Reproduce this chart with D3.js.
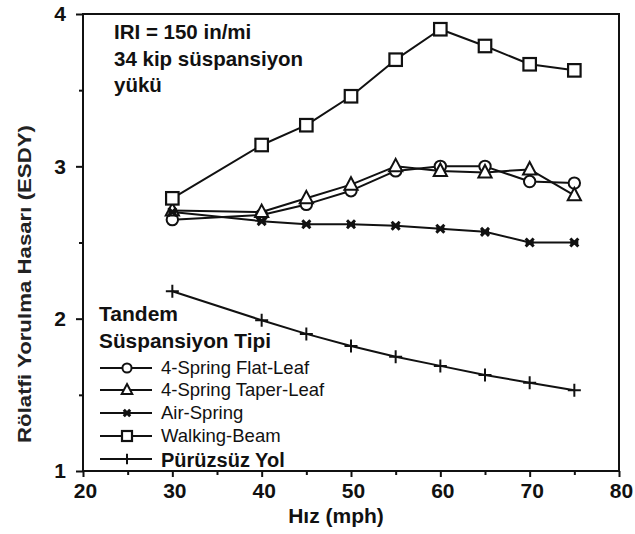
<!DOCTYPE html>
<html>
<head>
<meta charset="utf-8">
<script src="https://cdn.jsdelivr.net/npm/d3@7"></script>
<style>
  html, body { margin: 0; padding: 0; background: #fff; }
  svg { display: block; font-family: "Liberation Sans", Arial, Helvetica, sans-serif; }
</style>
</head>
<body>
<svg id="chart" width="635" height="534"></svg>
<script>
// ---- data ----
const speeds = [30, 40, 45, 50, 55, 60, 65, 70, 75];
const flatLeaf  = [2.65, 2.68, 2.75, 2.84, 2.97, 3.00, 3.00, 2.90, 2.89];
const taperLeaf = [2.71, 2.70, 2.79, 2.88, 3.00, 2.97, 2.96, 2.98, 2.81];
const airSpring = [2.70, 2.64, 2.62, 2.62, 2.61, 2.59, 2.57, 2.50, 2.50];
const walkingBeam = [2.79, 3.14, 3.27, 3.46, 3.70, 3.90, 3.79, 3.67, 3.63];
const smoothRoad = [2.18, 1.99, 1.90, 1.82, 1.75, 1.69, 1.63, 1.58, 1.53];
const seriesNames = ["4-Spring Flat-Leaf", "4-Spring Taper-Leaf", "Air-Spring", "Walking-Beam", "Pürüzsüz Yol"];
const xTicks = [20, 30, 40, 50, 60, 70, 80];
const xMinorTicks = [25, 35, 45, 55, 65, 75];
const yTicks = [1, 2, 3, 4];
const yMinorTicks = [1.5, 2.5, 3.5];
const noteLines = ["IRI = 150 in/mi", "34 kip süspansiyon", "yükü"];
const legendTitle = ["Tandem", "Süspansiyon Tipi"];
const xTitle = "Hız (mph)";
const yTitle = "Rölatfi Yorulma Hasarı (ESDY)";

(function () {
const svg = d3.select("#chart");
const pLeft = 83, pRight = 619, pTop = 14, pBottom = 471;
const x = d3.scaleLinear().domain([20, 80]).range([pLeft, pRight]);
const y = d3.scaleLinear().domain([1, 4]).range([pBottom, pTop]);

// frame
const g = svg.append("g");
g.append("rect").attr("x", pLeft).attr("y", pTop).attr("width", pRight - pLeft).attr("height", pBottom - pTop)
  .attr("fill", "none").attr("stroke", "#111").attr("stroke-width", 2);

// axes
const xAxis = d3.axisBottom(x).tickValues(xTicks).tickSize(6).tickFormat(d3.format("d"));
const gx = g.append("g").attr("transform", `translate(0,${pBottom})`).call(xAxis);
gx.select(".domain").remove();
gx.selectAll("line").attr("stroke", "#111").attr("stroke-width", 2);
gx.selectAll("text").attr("font-size", 21).attr("font-weight", "bold").attr("fill", "#111").attr("dy", "0.72em").attr("y", 12).attr("dx", 2);
const xAxisMinor = d3.axisBottom(x).tickValues(xMinorTicks).tickSize(4).tickFormat("");
const gxm = g.append("g").attr("transform", `translate(0,${pBottom})`).call(xAxisMinor);
gxm.select(".domain").remove();
gxm.selectAll("line").attr("stroke", "#111").attr("stroke-width", 2);

const yAxis = d3.axisLeft(y).tickValues(yTicks).tickSize(7).tickFormat(d3.format("d"));
const gy = g.append("g").attr("transform", `translate(${pLeft},0)`).call(yAxis);
gy.select(".domain").remove();
gy.selectAll("line").attr("stroke", "#111").attr("stroke-width", 2);
gy.selectAll("text").attr("font-size", 21).attr("font-weight", "bold").attr("fill", "#111").attr("x", -17);
const yAxisMinor = d3.axisLeft(y).tickValues(yMinorTicks).tickSize(4).tickFormat("");
const gym = g.append("g").attr("transform", `translate(${pLeft},0)`).call(yAxisMinor);
gym.select(".domain").remove();
gym.selectAll("line").attr("stroke", "#111").attr("stroke-width", 2);

// titles
svg.append("text").attr("x", 336).attr("y", 523).attr("text-anchor", "middle")
  .attr("font-size", 21).attr("font-weight", "bold").attr("fill", "#111").text(xTitle);
svg.append("text").attr("transform", "translate(31,284) rotate(-90)").attr("text-anchor", "middle")
  .attr("font-size", 19).attr("font-weight", "bold").attr("fill", "#222")
  .attr("textLength", 318).attr("lengthAdjust", "spacingAndGlyphs").text(yTitle);

// note
noteLines.forEach((t, i) => {
  svg.append("text").attr("x", 114).attr("y", 39 + i * 26.5)
    .attr("font-size", 20.5).attr("font-weight", "bold").attr("fill", "#111").text(t);
});

// series
const line = d3.line().x(d => x(d[0])).y(d => y(d[1]));
const series = [
  { name: seriesNames[0], values: flatLeaf, marker: "circle" },
  { name: seriesNames[1], values: taperLeaf, marker: "triangle" },
  { name: seriesNames[2], values: airSpring, marker: "x" },
  { name: seriesNames[3], values: walkingBeam, marker: "square" },
  { name: seriesNames[4], values: smoothRoad, marker: "plus" }
];

function drawMarker(sel, type, scale) {
  const s = scale || 1;
  if (type === "circle") {
    sel.append("circle").attr("r", 5.7 * s).attr("fill", "#fff").attr("stroke", "#111").attr("stroke-width", 2);
  } else if (type === "triangle") {
    const h = 12 * s;
    sel.append("path").attr("d", `M0,${-h * 0.62}L${h * 0.55},${h * 0.42}L${-h * 0.55},${h * 0.42}Z`)
      .attr("fill", "#fff").attr("stroke", "#111").attr("stroke-width", 2);
  } else if (type === "square") {
    const a = 12.5 * s;
    sel.append("rect").attr("x", -a / 2).attr("y", -a / 2).attr("width", a).attr("height", a)
      .attr("fill", "#fff").attr("stroke", "#111").attr("stroke-width", 2.2);
  } else if (type === "x") {
    const a = 4 * s;
    sel.append("path").attr("d", `M${-a},${-a}L${a},${a}M${-a},${a}L${a},${-a}`)
      .attr("stroke", "#111").attr("stroke-width", 3);
    sel.append("rect").attr("x", -a).attr("y", -2).attr("width", 2 * a).attr("height", 4).attr("fill", "#111");
  } else if (type === "plus") {
    const a = 6.5 * s;
    sel.append("path").attr("d", `M0,${-a}L0,${a}M${-a},0L${a},0`)
      .attr("stroke", "#111").attr("stroke-width", 2);
  }
}

const plot = svg.append("g");
series.forEach(s => {
  const pts = speeds.map((v, i) => [v, s.values[i]]);
  plot.append("path").datum(pts).attr("d", line).attr("fill", "none")
    .attr("stroke", "#111").attr("stroke-width", 2).attr("stroke-linejoin", "round");
});
series.forEach(s => {
  speeds.forEach((v, i) => {
    const m = plot.append("g").attr("transform", `translate(${x(v)},${y(s.values[i])})`);
    drawMarker(m, s.marker, 1);
  });
});

// legend
const lg = svg.append("g");
const titleLens = [79, 172];
legendTitle.forEach((t, i) => {
  lg.append("text").attr("x", 99).attr("y", 321 + i * 27).attr("font-size", 20).attr("fill", "#111")
    .attr("font-weight", "600").attr("textLength", titleLens[i]).attr("lengthAdjust", "spacingAndGlyphs").text(t);
});
const rowY = [368, 390, 413, 436, 459];
series.forEach((s, i) => {
  const yy = rowY[i];
  lg.append("line").attr("x1", 100).attr("x2", 152).attr("y1", yy).attr("y2", yy)
    .attr("stroke", "#111").attr("stroke-width", 2);
  const m = lg.append("g").attr("transform", `translate(127,${yy})`);
  drawMarker(m, s.marker, 0.8);
  const last = i === series.length - 1;
  lg.append("text").attr("x", 161).attr("y", yy + (last ? 8 : 6))
    .attr("font-size", last ? 20 : 18.5).attr("font-weight", last ? "600" : "normal")
    .attr("fill", "#111").text(s.name);
});
})();
</script>
</body>
</html>
